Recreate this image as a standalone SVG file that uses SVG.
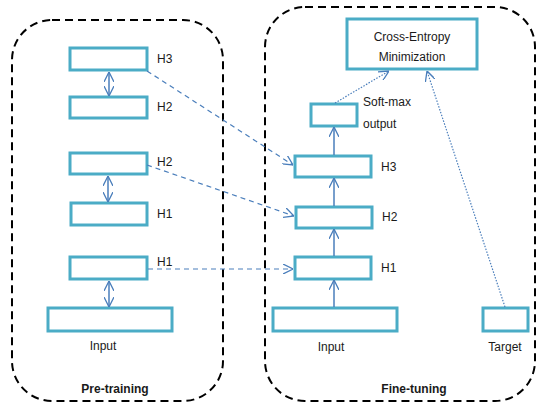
<svg xmlns="http://www.w3.org/2000/svg" width="537" height="404" viewBox="0 0 537 404">
<style>
.frame{fill:none;stroke:#000;stroke-width:2;stroke-dasharray:8,5}
.box{fill:#fff;stroke:#4bacc6;stroke-width:3}
.t{font-family:"Liberation Sans",Arial,sans-serif;font-size:12px;fill:#1a1a1a}
.b{font-weight:bold}
.solid{fill:none;stroke:#4a7ebb;stroke-width:1.5}
.dash{fill:none;stroke:#4a7ebb;stroke-width:1.2;stroke-dasharray:5,4}
.dot{fill:none;stroke:#4a7ebb;stroke-width:1.2;stroke-dasharray:1.5,1.5}
</style>
<defs>
<marker id="ah" viewBox="0 0 10 10" refX="10" refY="5" markerWidth="10" markerHeight="10" markerUnits="userSpaceOnUse" orient="auto-start-reverse">
<path d="M0,0 L10,5 L0,10" fill="none" stroke="#4a7ebb" stroke-width="1.3"/>
</marker>
</defs>
<g id="pretraining-frame"><rect class="frame" x="12" y="20" width="211" height="381" rx="40"/><text class="t b" x="115" y="393" text-anchor="middle">Pre-training</text></g>
<g id="finetuning-frame"><rect class="frame" x="265" y="7" width="270" height="394" rx="40"/><text class="t b" x="414" y="393" text-anchor="middle">Fine-tuning</text></g>

<g id="pt-h3a"><rect class="box" x="70" y="48" width="77" height="22"/><text class="t" x="157" y="63">H3</text></g>
<g id="pt-h2a"><rect class="box" x="70" y="97" width="77" height="21"/><text class="t" x="157" y="111">H2</text></g>
<g id="pt-h2b"><rect class="box" x="70" y="153" width="77" height="21"/><text class="t" x="157" y="166">H2</text></g>
<g id="pt-h1a"><rect class="box" x="71" y="203" width="76" height="22"/><text class="t" x="157" y="218">H1</text></g>
<g id="pt-h1b"><rect class="box" x="70" y="257" width="77" height="22"/><text class="t" x="157" y="266">H1</text></g>
<g id="pt-input"><rect class="box" x="48" y="308" width="124" height="23"/><text class="t" x="103" y="350" text-anchor="middle">Input</text></g>

<g id="ce"><rect class="box" x="347" y="19" width="130" height="50"/><text class="t" x="412" y="41" text-anchor="middle">Cross-Entropy</text><text class="t" x="412" y="61" text-anchor="middle">Minimization</text></g>
<g id="softmax"><rect class="box" x="311" y="104" width="46" height="22"/><text class="t" x="363" y="106">Soft-max</text><text class="t" x="363" y="128">output</text></g>
<g id="ft-h3"><rect class="box" x="295" y="156" width="76" height="21"/><text class="t" x="381" y="171">H3</text></g>
<g id="ft-h2"><rect class="box" x="296" y="207" width="76" height="21"/><text class="t" x="382" y="221">H2</text></g>
<g id="ft-h1"><rect class="box" x="295" y="257" width="76" height="22"/><text class="t" x="381" y="272">H1</text></g>
<g id="ft-input"><rect class="box" x="273" y="308" width="124" height="23"/><text class="t" x="331" y="351" text-anchor="middle">Input</text></g>
<g id="target"><rect class="box" x="483" y="308" width="45" height="23"/><text class="t" x="505" y="351" text-anchor="middle">Target</text></g>

<g id="connectors">
<line class="solid" x1="109" y1="72" x2="109" y2="96" marker-start="url(#ah)" marker-end="url(#ah)"/>
<line class="solid" x1="108" y1="176" x2="108" y2="202" marker-start="url(#ah)" marker-end="url(#ah)"/>
<line class="solid" x1="109" y1="281" x2="109" y2="307" marker-start="url(#ah)" marker-end="url(#ah)"/>
<line class="solid" x1="334" y1="307" x2="334" y2="280" marker-end="url(#ah)"/>
<line class="solid" x1="334" y1="256" x2="334" y2="229" marker-end="url(#ah)"/>
<line class="solid" x1="334" y1="206" x2="334" y2="178" marker-end="url(#ah)"/>
<line class="solid" x1="334" y1="155" x2="334" y2="127" marker-end="url(#ah)"/>
<line class="dash" x1="147" y1="71" x2="293" y2="165" marker-end="url(#ah)"/>
<line class="dash" x1="147" y1="165" x2="294" y2="216" marker-end="url(#ah)"/>
<line class="dash" x1="148" y1="269" x2="293" y2="269" marker-end="url(#ah)"/>
<line class="dot" x1="335" y1="103" x2="389" y2="71" marker-end="url(#ah)"/>
<line class="dot" x1="505" y1="307" x2="427" y2="71" marker-end="url(#ah)"/>
</g>
</svg>
